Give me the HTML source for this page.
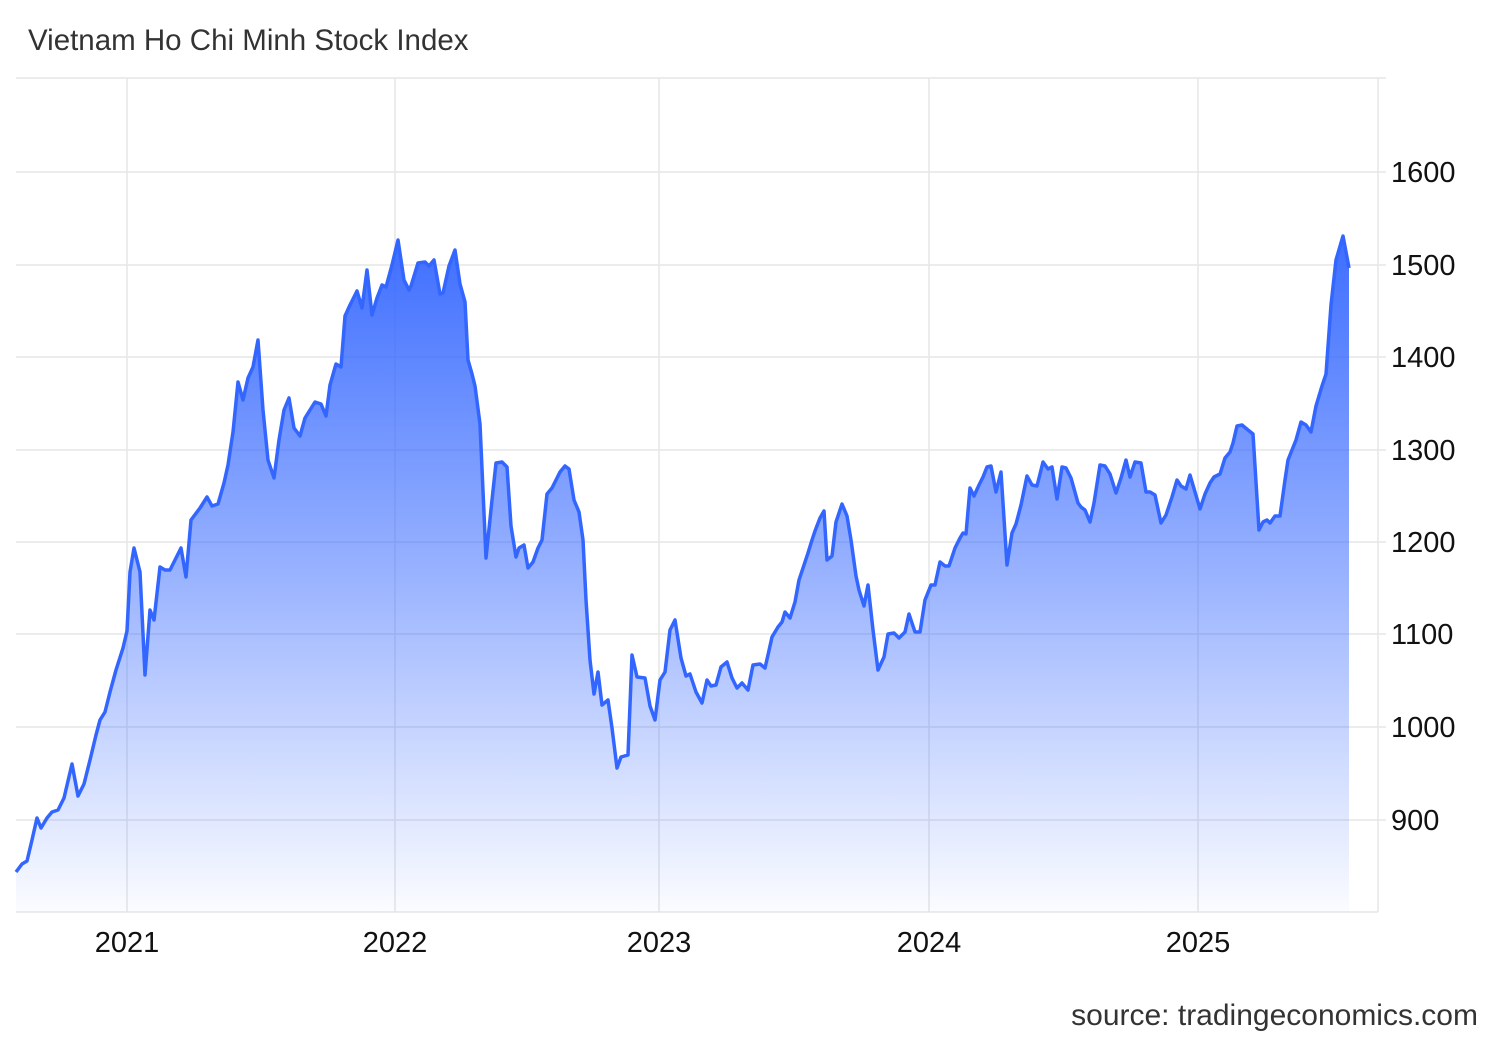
<!DOCTYPE html>
<html><head><meta charset="utf-8"><style>
body{margin:0;background:#fff;}
svg{display:block;font-family:"Liberation Sans",sans-serif;}
</style></head><body>
<svg width="1500" height="1040" viewBox="0 0 1500 1040">
<defs><linearGradient id="g" gradientUnits="userSpaceOnUse" x1="0" y1="236" x2="0" y2="912">
<stop offset="0" stop-color="#3366ff" stop-opacity="0.95"/>
<stop offset="0.5" stop-color="#3366ff" stop-opacity="0.5"/>
<stop offset="1" stop-color="#3366ff" stop-opacity="0.02"/></linearGradient></defs>
<text x="28" y="50" font-size="29.5" fill="#333">Vietnam Ho Chi Minh Stock Index</text>
<g stroke="#e6e6e6" stroke-width="1.5">
<line x1="16" y1="78" x2="1386" y2="78"/>
<line x1="16" y1="172" x2="1386" y2="172"/><line x1="16" y1="265" x2="1386" y2="265"/>
<line x1="16" y1="357" x2="1386" y2="357"/><line x1="16" y1="450" x2="1386" y2="450"/>
<line x1="16" y1="542" x2="1386" y2="542"/><line x1="16" y1="634" x2="1386" y2="634"/>
<line x1="16" y1="727" x2="1386" y2="727"/><line x1="16" y1="820" x2="1386" y2="820"/>
<line x1="16" y1="912" x2="1378" y2="912"/>
<line x1="127" y1="78" x2="127" y2="912"/><line x1="395" y1="78" x2="395" y2="912"/>
<line x1="659" y1="78" x2="659" y2="912"/><line x1="929" y1="78" x2="929" y2="912"/>
<line x1="1198" y1="78" x2="1198" y2="912"/><line x1="1378" y1="78" x2="1378" y2="912"/>
</g>
<path fill="url(#g)" d="M16,912 L16,872 22,864 27,861 32,840 37,818 41,828 47,818 52,812 58,810 64,798 72,764 78,796 84,784 90,760 96,735 100,720 105,712 110,692 116,670 123,648 127,631 130,572 134,548 140,572 145,675 150,610 154,620 160,567 165,570 170,570 176,558 181,548 186,577 191,520 200,508 207,497 212,506 218,504 224,483 228,465 233,432 238,382 243,400 248,378 253,367 258,340 263,410 268,460 274,478 279,440 284,410 289,398 294,428 300,436 305,418 310,410 315,402 321,404 326,416 330,385 336,364 341,367 345,316 350,305 357,291 362,308 367,270 372,315 377,298 382,285 386,287 392,265 398,240 404,280 409,290 411,286 418,263 425,262 429,266 434,260 440,294 443,293 449,266 455,250 460,284 465,302 468,360 472,374 475,386 480,424 486,558 492,500 496,463 502,462 507,467 511,526 516,557 519,548 524,545 528,568 533,562 538,548 542,540 547,494 552,488 556,480 560,472 565,466 569,469 574,500 579,512 583,540 586,600 590,660 594,694 598,672 602,705 608,700 612,728 617,768 621,757 628,755 632,655 637,677 645,678 650,706 655,720 660,680 665,672 670,630 675,620 681,658 686,676 690,674 696,692 702,703 707,680 711,686 716,685 721,667 727,662 732,678 737,688 742,683 748,690 753,665 760,664 765,668 768,655 772,637 778,627 782,622 785,612 790,618 795,602 799,580 803,568 808,553 812,540 815,531 820,518 824,511 827,560 832,556 836,522 842,504 847,516 851,540 856,576 859,590 864,606 868,585 873,630 878,670 884,657 888,634 894,633 899,638 905,632 909,614 915,632 920,632 925,600 931,585 935,585 940,562 945,566 949,566 955,548 960,538 963,533 966,534 970,488 974,496 979,485 983,477 987,467 991,466 996,492 1001,472 1007,565 1012,533 1016,524 1021,505 1027,476 1032,485 1037,486 1043,462 1048,469 1052,467 1057,499 1062,467 1066,468 1071,478 1078,503 1081,507 1085,510 1090,522 1094,503 1100,465 1105,466 1110,474 1116,493 1121,478 1126,460 1130,477 1135,462 1141,463 1146,492 1150,492 1155,495 1161,523 1166,515 1172,497 1177,480 1181,486 1186,489 1190,475 1195,492 1200,509 1205,494 1210,483 1214,477 1220,474 1225,458 1230,452 1233,443 1237,426 1242,425 1248,430 1253,434 1259,530 1263,522 1267,520 1270,523 1275,516 1280,516 1285,480 1288,460 1292,450 1296,440 1301,422 1306,425 1311,432 1316,406 1322,386 1326,374 1331,305 1336,260 1343,236 1349,268 L1349,912 Z"/>
<polyline fill="none" stroke="#3366ff" stroke-width="3.5" stroke-linejoin="round" points="16,872 22,864 27,861 32,840 37,818 41,828 47,818 52,812 58,810 64,798 72,764 78,796 84,784 90,760 96,735 100,720 105,712 110,692 116,670 123,648 127,631 130,572 134,548 140,572 145,675 150,610 154,620 160,567 165,570 170,570 176,558 181,548 186,577 191,520 200,508 207,497 212,506 218,504 224,483 228,465 233,432 238,382 243,400 248,378 253,367 258,340 263,410 268,460 274,478 279,440 284,410 289,398 294,428 300,436 305,418 310,410 315,402 321,404 326,416 330,385 336,364 341,367 345,316 350,305 357,291 362,308 367,270 372,315 377,298 382,285 386,287 392,265 398,240 404,280 409,290 411,286 418,263 425,262 429,266 434,260 440,294 443,293 449,266 455,250 460,284 465,302 468,360 472,374 475,386 480,424 486,558 492,500 496,463 502,462 507,467 511,526 516,557 519,548 524,545 528,568 533,562 538,548 542,540 547,494 552,488 556,480 560,472 565,466 569,469 574,500 579,512 583,540 586,600 590,660 594,694 598,672 602,705 608,700 612,728 617,768 621,757 628,755 632,655 637,677 645,678 650,706 655,720 660,680 665,672 670,630 675,620 681,658 686,676 690,674 696,692 702,703 707,680 711,686 716,685 721,667 727,662 732,678 737,688 742,683 748,690 753,665 760,664 765,668 768,655 772,637 778,627 782,622 785,612 790,618 795,602 799,580 803,568 808,553 812,540 815,531 820,518 824,511 827,560 832,556 836,522 842,504 847,516 851,540 856,576 859,590 864,606 868,585 873,630 878,670 884,657 888,634 894,633 899,638 905,632 909,614 915,632 920,632 925,600 931,585 935,585 940,562 945,566 949,566 955,548 960,538 963,533 966,534 970,488 974,496 979,485 983,477 987,467 991,466 996,492 1001,472 1007,565 1012,533 1016,524 1021,505 1027,476 1032,485 1037,486 1043,462 1048,469 1052,467 1057,499 1062,467 1066,468 1071,478 1078,503 1081,507 1085,510 1090,522 1094,503 1100,465 1105,466 1110,474 1116,493 1121,478 1126,460 1130,477 1135,462 1141,463 1146,492 1150,492 1155,495 1161,523 1166,515 1172,497 1177,480 1181,486 1186,489 1190,475 1195,492 1200,509 1205,494 1210,483 1214,477 1220,474 1225,458 1230,452 1233,443 1237,426 1242,425 1248,430 1253,434 1259,530 1263,522 1267,520 1270,523 1275,516 1280,516 1285,480 1288,460 1292,450 1296,440 1301,422 1306,425 1311,432 1316,406 1322,386 1326,374 1331,305 1336,260 1343,236 1349,268"/>
<g font-size="29" fill="#111">
<text x="1391" y="182">1600</text><text x="1391" y="275">1500</text>
<text x="1391" y="367">1400</text><text x="1391" y="460">1300</text>
<text x="1391" y="552">1200</text><text x="1391" y="644">1100</text>
<text x="1391" y="737">1000</text><text x="1391" y="830">900</text>
</g>
<g font-size="29" fill="#111" text-anchor="middle">
<text x="127" y="952">2021</text><text x="395" y="952">2022</text>
<text x="659" y="952">2023</text><text x="929" y="952">2024</text>
<text x="1198" y="952">2025</text>
</g>
<text x="1478" y="1025" font-size="30" fill="#333" text-anchor="end">source: tradingeconomics.com</text>
</svg>
</body></html>
